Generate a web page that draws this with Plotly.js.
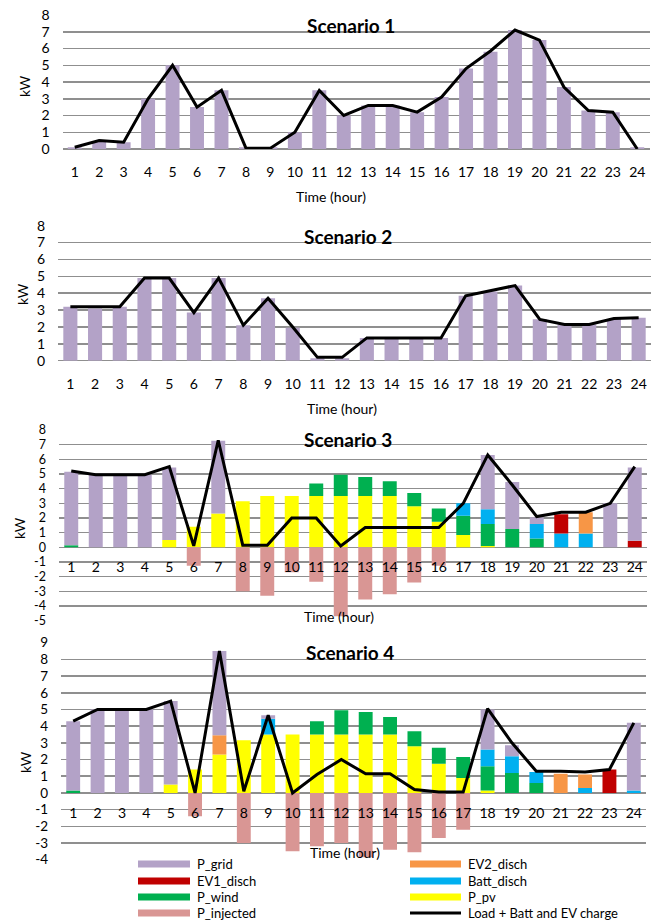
<!DOCTYPE html>
<html>
<head>
<meta charset="utf-8">
<script src="https://cdn.plot.ly/plotly-3.0.1.min.js"></script>
<style>
html,body{margin:0;padding:0;background:#fff;}
#chart{width:654px;height:921px;}
</style>
</head>
<body>
<div id="chart"></div>
<script>
// ---------- DATA ----------
const hours = [1,2,3,4,5,6,7,8,9,10,11,12,13,14,15,16,17,18,19,20,21,22,23,24];
const hourLabels = ['1','2','3','4','5','6','7','8','9','10','11','12','13','14','15','16','17','18','19','20','21','22','23','24'];

// Scenario 1
const s1_grid = [0.1,0.45,0.4,3.0,5.0,2.5,3.5,0.1,0.1,1.0,3.5,2.0,2.6,2.6,2.2,3.1,4.8,5.8,7.1,6.5,3.7,2.3,2.2,0.1];
const s1_load = [0.1,0.5,0.4,3.0,5.0,2.5,3.5,0.05,0.05,1.0,3.5,2.0,2.6,2.6,2.2,3.1,4.8,5.85,7.1,6.5,3.7,2.3,2.2,0.0];

// Scenario 2
const s2_grid = [3.2,3.1,3.2,4.9,4.9,2.85,4.9,2.1,3.7,1.95,0.15,0.15,1.35,1.3,1.3,1.35,3.85,4.1,4.45,2.45,2.15,2.15,2.45,2.55];
const s2_load = [3.2,3.2,3.2,4.9,4.9,2.85,4.9,2.1,3.7,2.0,0.2,0.2,1.35,1.35,1.35,1.35,3.85,4.15,4.45,2.45,2.15,2.15,2.5,2.55];

// Scenario 3
const s3_pv   = [0,0,0,0,0.5,1.4,2.3,3.15,3.5,3.5,3.5,3.5,3.5,3.5,2.8,1.75,0.85,0.1,0,0,0,0,0,0];
const s3_wind = [0.15,0,0,0,0,0,0,0,0,0,0.85,1.45,1.3,1.0,0.9,0.9,1.3,1.5,1.25,0.6,0,0,0,0];
const s3_batt = [0,0,0,0,0,0,0,0,0,0,0,0,0,0,0,0,0.85,1.0,0,1.0,0.95,0.95,0,0];
const s3_ev1  = [0,0,0,0,0,0,0,0,0,0,0,0,0,0,0,0,0,0,0,0,1.3,0,0,0.45];
const s3_ev2  = [0,0,0,0,0,0,0,0,0,0,0,0,0,0,0,0,0,0,0,0,0,1.45,0,0];
const s3_grid = [5.0,4.95,4.95,4.95,4.95,0,4.97,0,0,0,0,0,0,0,0,0,0,3.7,3.2,0.45,0,0,3.0,5.0];
const s3_inj  = [0,0,0,0,0,-1.25,0,-3.0,-3.3,-1.7,-2.35,-4.7,-3.55,-3.2,-2.4,-1.25,0,0,0,0,0,0,0,0];
const s3_load = [5.2,4.95,4.95,4.95,5.5,0.1,7.3,0.15,0.15,2.0,2.0,0.1,1.35,1.35,1.35,1.35,3.0,6.3,4.25,2.1,2.4,2.4,3.0,5.5];

// Scenario 4
const s4_pv   = [0,0,0,0,0.5,1.4,2.3,3.15,3.5,3.5,3.5,3.5,3.5,3.5,2.8,1.75,0.9,0.15,0,0,0,0,0,0];
const s4_wind = [0.15,0,0,0,0,0,0,0,0,0,0.8,1.45,1.35,1.05,0.9,0.95,1.25,1.45,1.2,0.6,0,0,0,0];
const s4_batt = [0,0,0,0,0,0,0,0,0.95,0,0,0,0,0,0,0,0,1.0,1.0,0.65,0,0.3,0,0.15];
const s4_ev1  = [0,0,0,0,0,0,0,0,0,0,0,0,0,0,0,0,0,0,0,0,0,0,1.4,0];
const s4_ev2  = [0,0,0,0,0,0,1.15,0,0,0,0,0,0,0,0,0,0,0,0,0,1.15,0.8,0,0];
const s4_grid = [4.15,5.0,5.0,5.0,5.0,0,5.05,0,0.2,0,0,0,0,0,0,0,0,2.4,0.65,0,0,0,0,4.05];
const s4_inj  = [0,0,0,0,0,-1.4,0,-3.0,0,-3.5,-3.2,-3.0,-3.85,-3.4,-3.55,-2.7,-2.2,0,0,0,0,0,0,0];
const s4_load = [4.3,5.0,5.0,5.0,5.5,0.0,8.5,0.1,4.65,0.0,1.1,2.0,1.15,1.15,0.2,0.05,0.05,5.05,3.0,1.3,1.3,1.25,1.4,4.2];

// Axis tick labels
const yTicks1 = [0,1,2,3,4,5,6,7,8];
const yTickText1 = ['0','1','2','3','4','5','6','7','8'];
const yTicks3 = [-5,-4,-3,-2,-1,0,1,2,3,4,5,6,7,8];
const yTickText3 = ['-5','-4','-3','-2','-1','0','1','2','3','4','5','6','7','8'];
const yTicks4 = [-4,-3,-2,-1,0,1,2,3,4,5,6,7,8,9];
const yTickText4 = ['-4','-3','-2','-1','0','1','2','3','4','5','6','7','8','9'];

// Legend entries
const legendNames = ['P_grid','EV2_disch','EV1_disch','Batt_disch','P_wind','P_pv','P_injected','Load + Batt and EV charge'];

// ---------- STYLE ----------
const C = {
  grid:'#B3A2C7', ev2:'#F79646', ev1:'#C00000', batt:'#00B0F0',
  wind:'#00B050', pv:'#FFFF00', inj:'#D99694', load:'#000000'
};
const legendColors = [C.grid,C.ev2,C.ev1,C.batt,C.wind,C.pv,C.inj,C.load];
const FONT = 'Lato, "Open Sans", sans-serif';
const W = 654, H = 921;
const px = v => v / W;
const py = v => 1 - v / H;
const GRIDC = '#8f8f8f';

// ---------- TRACES ----------
const traces = [];
function bar(y, color, n){
  traces.push({type:'bar', x:hours, y:y, marker:{color:color, line:{width:0}},
    xaxis:'x'+(n===1?'':n), yaxis:'y'+(n===1?'':n), showlegend:false, hoverinfo:'y'});
}
function line(y, n){
  traces.push({type:'scatter', mode:'lines', x:hours, y:y, line:{color:C.load, width:3},
    xaxis:'x'+(n===1?'':n), yaxis:'y'+(n===1?'':n), showlegend:false});
}
bar(s1_grid, C.grid, 1); line(s1_load, 1);
bar(s2_grid, C.grid, 2); line(s2_load, 2);
[[s3_pv,C.pv],[s3_wind,C.wind],[s3_batt,C.batt],[s3_ev1,C.ev1],[s3_ev2,C.ev2],[s3_grid,C.grid],[s3_inj,C.inj]]
  .forEach(([d,c]) => bar(d, c, 3));
line(s3_load, 3);
[[s4_pv,C.pv],[s4_wind,C.wind],[s4_batt,C.batt],[s4_ev1,C.ev1],[s4_ev2,C.ev2],[s4_grid,C.grid],[s4_inj,C.inj]]
  .forEach(([d,c]) => bar(d, c, 4));
line(s4_load, 4);

// ---------- AXES ----------
function xAxis(d0, d1, anchor, free, pos, standoff){
  const a = {domain:[px(d0), px(d1)], range:[0.5,24.5], tickmode:'array', tickvals:hours, ticktext:hourLabels,
    showgrid:false, zeroline:false, showline:false, ticks:'', ticklabelstandoff:standoff,
    tickfont:{family:FONT, size:14, color:'#000'}, fixedrange:true};
  if (free){ a.anchor='free'; a.position=pos; } else { a.anchor=anchor; }
  return a;
}
function yAxis(top, bottom, range, tv, tt, anchor, fs){
  return {domain:[py(bottom), py(top)], range:range, tickmode:'array', tickvals:tv, ticktext:tt,
    showgrid:true, gridcolor:GRIDC, gridwidth:1.5, zeroline:true, zerolinecolor:GRIDC, zerolinewidth:1.5,
    showline:false, ticks:'', ticklabelstandoff:12, anchor:anchor,
    tickfont:{family:FONT, size:fs, color:'#000'}, fixedrange:true};
}

const layout = {
  width:W, height:H, margin:{l:0,r:0,t:0,b:0}, paper_bgcolor:'#fff', plot_bgcolor:'rgba(0,0,0,0)',
  barmode:'relative', bargap:0.43, showlegend:false,
  xaxis:  xAxis(62.5, 649.5, 'y', false, 0, 13),
  yaxis:  yAxis(15, 149, [0,8], yTicks1, yTickText1, 'x', 14),
  xaxis2: xAxis(58, 651, 'y2', false, 0, 13),
  yaxis2: yAxis(225.7, 360.7, [0,8], yTicks1, yTickText1, 'x2', 14),
  xaxis3: xAxis(59, 647, null, true, py(547.3), 10),
  yaxis3: yAxis(430, 620.7, [-5,8], yTicks3, yTickText3, 'x3', 12.5),
  xaxis4: xAxis(61, 646, null, true, py(792.5), 10),
  yaxis4: yAxis(642.7, 859.7, [-4,9], yTicks4, yTickText4, 'x4', 13.5),
  annotations:[], shapes:[]
};

function ann(text, x, y, size, opts){
  layout.annotations.push(Object.assign({text:text, x:px(x), y:py(y), xref:'paper', yref:'paper',
    showarrow:false, xanchor:'center', yanchor:'middle', font:{family:FONT, size:size, color:'#000'}}, opts||{}));
}
// Titles
ann('<b>Scenario 1</b>', 351, 25, 19);
ann('<b>Scenario 2</b>', 348, 236, 19);
ann('<b>Scenario 3</b>', 348, 439, 19);
ann('<b>Scenario 4</b>', 350, 652, 19);
// Axis titles
ann('Time (hour)', 331, 197, 14);
ann('Time (hour)', 342, 408, 14);
ann('Time (hour)', 339, 616, 14);
ann('Time (hour)', 345, 852, 14);
ann('kW', 24, 86, 14, {textangle:-90});
ann('kW', 23, 294, 14, {textangle:-90});
ann('kW', 19, 528, 14, {textangle:-90});
ann('kW', 25, 762, 14, {textangle:-90});

// Legend (two columns)
const legRows = [864, 881, 897, 913];
legendNames.forEach((name, i) => {
  const col = i % 2, row = Math.floor(i / 2);
  const x0 = col === 0 ? 138 : 410, x1 = col === 0 ? 190 : 461;
  const yc = legRows[row];
  if (i === legendNames.length - 1) {
    layout.shapes.push({type:'line', xref:'paper', yref:'paper', x0:px(x0), x1:px(x1), y0:py(yc), y1:py(yc),
      line:{color:legendColors[i], width:3}});
  } else {
    layout.shapes.push({type:'rect', xref:'paper', yref:'paper', x0:px(x0), x1:px(x1), y0:py(yc-3.5), y1:py(yc+3.5),
      fillcolor:legendColors[i], line:{width:0}});
  }
  ann(name, x1 + 5, yc, 13, {xanchor:'left'});
});

Plotly.newPlot('chart', traces, layout, {displayModeBar:false, staticPlot:true});
</script>
</body>
</html>
